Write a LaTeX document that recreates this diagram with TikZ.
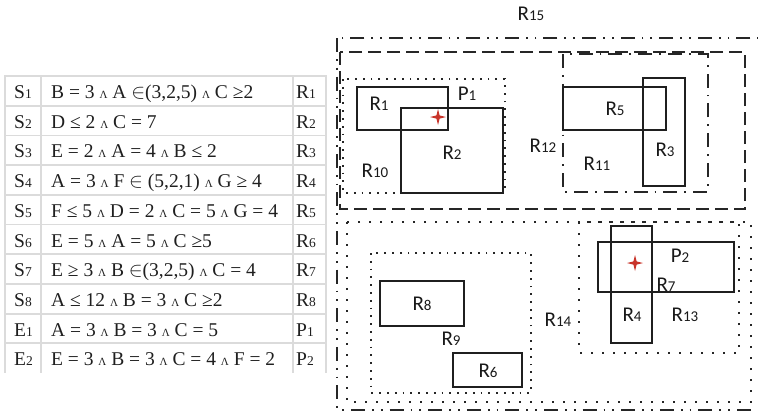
\documentclass[tikz,border=0pt]{standalone}
\usepackage{fontspec}
\setmainfont{Liberation Serif}
\newfontfamily\labfont{Carlito}
\newcommand\w{{\fontsize{11}{11}\selectfont Λ}}
\newcommand\tg[1]{{\fontsize{13.5}{13.5}\selectfont #1}}
\newcommand\dg[1]{{\fontsize{15}{15}\selectfont #1}}
\tikzset{
  x=1pt, y=-1pt,
  grid/.style={draw=black!14, line width=1.8pt},
  cell/.style={anchor=base west, inner sep=0pt, text=black!88, font=\fontsize{19.5}{19.5}\selectfont},
  lbl/.style={inner sep=0pt, text=black!90, font=\labfont\fontsize{21}{21}\selectfont},
  solidbox/.style={draw=black!88, line width=2.4pt},
  dashdotdot/.style={draw=black!85, line width=1.8pt, dash pattern=on 14pt off 7pt on 1.8pt off 7pt on 1.8pt off 7pt},
  longdash/.style={draw=black!85, line width=1.6pt, dash pattern=on 13pt off 6pt},
  dashdot/.style={draw=black!85, line width=1.6pt, dash pattern=on 14pt off 7pt on 1.8pt off 7pt},
  finedots/.style={draw=black!85, line width=1.8pt, dash pattern=on 1.8pt off 6pt},
  widedots/.style={draw=black!85, line width=2.2pt, dash pattern=on 2.2pt off 8.8pt},
  fourstar/.pic={\fill[fill={rgb,255:red,200;green,52;blue,42}] (0,-8) -- (1.6,-1.6) -- (8,0) -- (1.6,1.6) -- (0,8) -- (-1.6,1.6) -- (-8,0) -- (-1.6,-1.6) -- cycle;}
}
\begin{document}
\begin{tikzpicture}
\useasboundingbox (0,0) rectangle (758,413);
% ---------- table ----------
\foreach \i in {0,...,9} {\draw[grid] (5,76+29.7*\i) -- (326,76+29.7*\i);}
\foreach \xx in {5,41,293,326} {\draw[grid] (\xx,75) -- (\xx,373);}
\node[cell] (a1) at (14,98.5) {S\tg{1}};
\node[cell] (b1) at (51,98.5) {B = 3 \w{} A $\in$(3,2,5) \w{} C ≥2};
\node[cell] (c1) at (296,98.5) {R\tg{1}};
\node[cell] (a2) at (14,128.2) {S\tg{2}};
\node[cell] (b2) at (51,128.2) {D ≤ 2 \w{} C = 7};
\node[cell] (c2) at (296,128.2) {R\tg{2}};
\node[cell] (a3) at (14,157.9) {S\tg{3}};
\node[cell] (b3) at (51,157.9) {E = 2 \w{} A = 4 \w{} B ≤ 2};
\node[cell] (c3) at (296,157.9) {R\tg{3}};
\node[cell] (a4) at (14,187.6) {S\tg{4}};
\node[cell] (b4) at (51,187.6) {A = 3 \w{} F $\in$ (5,2,1) \w{} G ≥ 4};
\node[cell] (c4) at (296,187.6) {R\tg{4}};
\node[cell] (a5) at (14,217.3) {S\tg{5}};
\node[cell] (b5) at (51,217.3) {F ≤ 5 \w{} D = 2 \w{} C = 5 \w{} G = 4};
\node[cell] (c5) at (296,217.3) {R\tg{5}};
\node[cell] (a6) at (14,247) {S\tg{6}};
\node[cell] (b6) at (51,247) {E = 5 \w{} A = 5 \w{} C ≥5};
\node[cell] (c6) at (296,247) {R\tg{6}};
\node[cell] (a7) at (14,276.7) {S\tg{7}};
\node[cell] (b7) at (51,276.7) {E ≥ 3 \w{} B $\in$(3,2,5) \w{} C = 4};
\node[cell] (c7) at (296,276.7) {R\tg{7}};
\node[cell] (a8) at (14,306.4) {S\tg{8}};
\node[cell] (b8) at (51,306.4) {A ≤ 12 \w{} B = 3 \w{} C ≥2};
\node[cell] (c8) at (296,306.4) {R\tg{8}};
\node[cell] (a9) at (14,336.1) {E\tg{1}};
\node[cell] (b9) at (51,336.1) {A = 3 \w{} B = 3 \w{} C = 5};
\node[cell] (c9) at (296,336.1) {P\tg{1}};
\node[cell] (a10) at (14,365.8) {E\tg{2}};
\node[cell] (b10) at (51,365.8) {E = 3 \w{} B = 3 \w{} C = 4 \w{} F = 2};
\node[cell] (c10) at (296,365.8) {P\tg{2}};
% ---------- regions ----------
\begin{scope}
\clip (0,0) rectangle (758,413);
\draw[dashdotdot] (337,38) rectangle (770,410);
\end{scope}
\draw[longdash] (340,52) rectangle (745,209);
\draw[finedots] (343,79) rectangle (505,193);
\draw[solidbox] (357,87) rectangle (448,130);
\draw[solidbox] (401,108) rectangle (503,193);
\draw[dashdot] (563,54) rectangle (708,192);
\draw[solidbox] (563,87) rectangle (666,130);
\draw[solidbox] (643,78) rectangle (685,186);
\draw[widedots] (347,222) rectangle (751,402);
\draw[finedots] (371,253) rectangle (531,393);
\draw[solidbox] (380,281) rectangle (464,326);
\draw[solidbox] (453,353) rectangle (522,387);
\draw[widedots] (579,222) rectangle (739,353);
\draw[solidbox] (611,226) rectangle (652,343);
\draw[solidbox] (598,242) rectangle (734,292);
\pic at (438,117) {fourstar};
\pic at (635,263) {fourstar};
% ---------- labels ----------
\node[lbl] (l15) at (531,14) {R\dg{15}};
\node[lbl] (l1) at (379,104) {R\dg{1}};
\node[lbl] (lp1) at (467,94) {P\dg{1}};
\node[lbl] (l2) at (452,153) {R\dg{2}};
\node[lbl] (l10) at (375,171) {R\dg{10}};
\node[lbl] (l12) at (543,146) {R\dg{12}};
\node[lbl] (l5) at (615,109) {R\dg{5}};
\node[lbl] (l3) at (665,150) {R\dg{3}};
\node[lbl] (l11) at (597,164) {R\dg{11}};
\node[lbl] (lp2) at (680,256) {P\dg{2}};
\node[lbl] (l7) at (666,285) {R\dg{7}};
\node[lbl] (l4) at (632,315) {R\dg{4}};
\node[lbl] (l13) at (685,315) {R\dg{13}};
\node[lbl] (l14) at (558,320) {R\dg{14}};
\node[lbl] (l8) at (422,304) {R\dg{8}};
\node[lbl] (l9) at (451,339) {R\dg{9}};
\node[lbl] (l6) at (488,371) {R\dg{6}};
\end{tikzpicture}
\end{document}
